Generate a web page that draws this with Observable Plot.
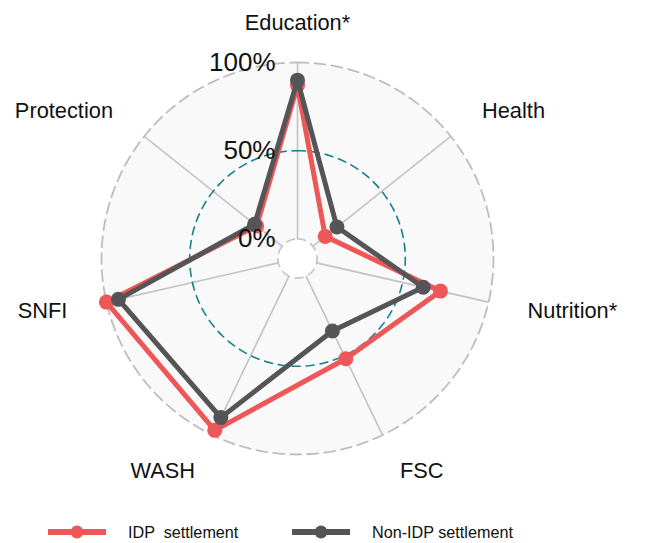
<!DOCTYPE html>
<html><head><meta charset="utf-8">
<script src="https://cdn.jsdelivr.net/npm/d3@7"></script>
<script src="https://cdn.jsdelivr.net/npm/@observablehq/plot@0.6"></script>
<style>
body{margin:0;background:#fff;font-family:"Liberation Sans",Arial,sans-serif;}
#chart svg{display:block;}
#legend{position:relative;width:646px;height:43px;}
.item{position:absolute;top:20px;height:24px;display:flex;align-items:center;}
.item span{font-size:16.2px;color:#111;white-space:pre;margin-left:22px;}
</style></head><body>
<div id="chart"></div>
<div id="legend"></div>
<script>
// ---- data ----
const axes = ["Education*", "Health", "Nutrition*", "FSC", "WASH", "SNFI", "Protection"];
const idpValues = [0.87, 0.09, 0.72, 0.52, 0.97, 1.00, 0.185];
const nonIdpValues = [0.90, 0.175, 0.62, 0.345, 0.89, 0.93, 0.20];
const seriesNames = ["IDP  settlement", "Non-IDP settlement"];
const seriesColors = ["#EE5757", "#555557"];
const gridValues = [0, 0.5, 1];
const gridLabels = ["0%", "50%", "100%"];

// ---- geometry helpers ----
const W = 646, H = 500, cx = 297, cy = 258, Rpx = 196;
const rad = v => (v + 1/9) / (1 + 1/9);
const ang = i => i * 2 * Math.PI / axes.length;
const circle = rr => d3.range(0, 360, 2).map(a => ({x: rr * Math.sin(a * Math.PI / 180), y: rr * Math.cos(a * Math.PI / 180)}));

const series = [idpValues, nonIdpValues].map((vals, s) =>
  vals.map((v, i) => ({series: seriesNames[s], axis: axes[i], x: rad(v) * Math.sin(ang(i)), y: rad(v) * Math.cos(ang(i))})));

const axisTable = axes.map((a, i) => ({
  name: a,
  x1: rad(0) * Math.sin(ang(i)), y1: rad(0) * Math.cos(ang(i)),
  x2: Math.sin(ang(i)), y2: Math.cos(ang(i)),
  lx: 1.204 * Math.sin(ang(i)), ly: 1.204 * Math.cos(ang(i)),
  side: Math.abs(Math.sin(ang(i))) < 0.01 ? 0 : Math.sign(Math.sin(ang(i)))
}));
const gridTable = gridValues.map((g, i) => ({label: gridLabels[i], x: -22 / Rpx, y: rad(g)}));

const labelOpts = {x: "lx", y: "ly", text: "name", fontSize: 21.8, fill: "#111"};

const chart = Plot.plot({
  width: W, height: H, margin: 0,
  x: {domain: [-cx / Rpx, (W - cx) / Rpx], axis: null},
  y: {domain: [-(H - cy) / Rpx, cy / Rpx], axis: null},
  style: {fontFamily: "Liberation Sans, Arial, sans-serif", background: "#fff"},
  marks: [
    Plot.line(circle(1), {x: "x", y: "y", curve: "linear-closed", fill: "#f9f9f9", stroke: "none"}),
    Plot.line(circle(rad(0)), {x: "x", y: "y", curve: "linear-closed", fill: "#ffffff", stroke: "none"}),
    Plot.link(axisTable, {x1: "x1", y1: "y1", x2: "x2", y2: "y2", stroke: "#c3c3c3", strokeWidth: 1.6}),
    Plot.line(circle(1), {x: "x", y: "y", curve: "linear-closed", stroke: "#bdbdbd", strokeWidth: 1.8, strokeDasharray: "11,6"}),
    Plot.line(circle(rad(0.5)), {x: "x", y: "y", curve: "linear-closed", stroke: "#13808a", strokeWidth: 1.6, strokeDasharray: "8,6"}),
    Plot.line(circle(rad(0)), {x: "x", y: "y", curve: "linear-closed", stroke: "#c3c3c3", strokeWidth: 1.6, strokeDasharray: "8,6"}),
    Plot.line(series[0], {x: "x", y: "y", curve: "linear-closed", stroke: seriesColors[0], strokeWidth: 5, strokeLinejoin: "round"}),
    Plot.dot(series[0], {x: "x", y: "y", r: 7.5, fill: seriesColors[0], stroke: "none"}),
    Plot.line(series[1], {x: "x", y: "y", curve: "linear-closed", stroke: seriesColors[1], strokeWidth: 5, strokeLinejoin: "round"}),
    Plot.dot(series[1], {x: "x", y: "y", r: 7.5, fill: seriesColors[1], stroke: "none"}),
    Plot.text(gridTable, {x: "x", y: "y", text: "label", textAnchor: "end", fontSize: 26, fill: "#111"}),
    Plot.text(axisTable.filter(d => d.side === 0), {...labelOpts, textAnchor: "middle"}),
    Plot.text(axisTable.filter(d => d.side > 0), {...labelOpts, textAnchor: "start"}),
    Plot.text(axisTable.filter(d => d.side < 0), {...labelOpts, textAnchor: "end"})
  ]
});
document.getElementById("chart").appendChild(chart);

// ---- legend ----
const lg = document.getElementById("legend");
const lefts = [48, 292];
seriesNames.forEach((n, i) => {
  const d = document.createElement("div");
  d.className = "item";
  d.style.left = lefts[i] + "px";
  d.innerHTML = `<svg width="58" height="24"><line x1="0" y1="12" x2="58" y2="12" stroke="${seriesColors[i]}" stroke-width="6"/><circle cx="29" cy="12" r="6.5" fill="${seriesColors[i]}"/></svg>`;
  const s = document.createElement("span");
  s.textContent = n;
  d.appendChild(s);
  lg.appendChild(d);
});
</script>
</body></html>
